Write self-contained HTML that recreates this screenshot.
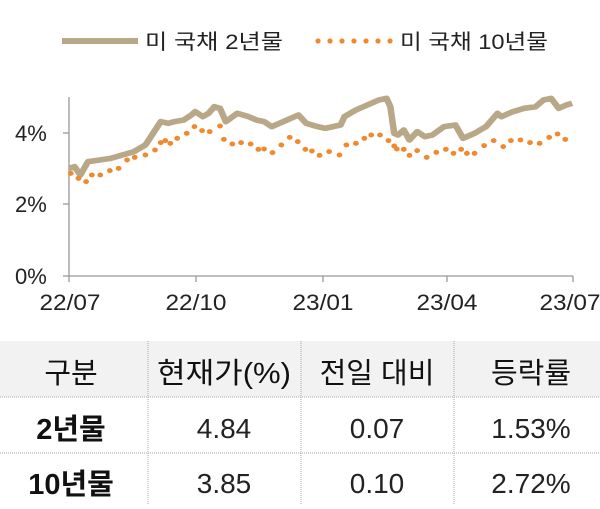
<!DOCTYPE html>
<html><head><meta charset="utf-8"><style>
body{margin:0;width:600px;height:504px;background:#fff;overflow:hidden;font-family:"Liberation Sans","Noto Sans CJK KR",sans-serif;}
svg text{font-family:"Liberation Sans","Noto Sans CJK KR",sans-serif;}
</style></head><body>
<svg width="600" height="504" viewBox="0 0 600 504" xmlns="http://www.w3.org/2000/svg">
<line x1="62" y1="41" x2="138" y2="41" stroke="#b8a887" stroke-width="6"/>
<text x="145" y="49" font-size="21" fill="#222" textLength="138" lengthAdjust="spacingAndGlyphs">미 국채 2년물</text>
<g fill="#f08a30">
<circle cx="318" cy="41" r="2.6"/><circle cx="330" cy="41" r="2.6"/><circle cx="342" cy="41" r="2.6"/><circle cx="354" cy="41" r="2.6"/><circle cx="366" cy="41" r="2.6"/><circle cx="378" cy="41" r="2.6"/><circle cx="390" cy="41" r="2.6"/>
</g>
<text x="400" y="49" font-size="21" fill="#222" textLength="148" lengthAdjust="spacingAndGlyphs">미 국채 10년물</text>
<g stroke="#999" stroke-width="1.3">
<line x1="69" y1="97" x2="69" y2="276"/>
<line x1="69" y1="276" x2="573" y2="276"/>
<line x1="63" y1="133" x2="69" y2="133"/><line x1="63" y1="204" x2="69" y2="204"/><line x1="63" y1="276" x2="69" y2="276"/>
<line x1="69" y1="276" x2="69" y2="282"/><line x1="196" y1="276" x2="196" y2="282"/><line x1="323" y1="276" x2="323" y2="282"/><line x1="447" y1="276" x2="447" y2="282"/><line x1="573" y1="276" x2="573" y2="282"/>
</g>
<g font-size="22" fill="#222">
<text x="15" y="141">4%</text><text x="15" y="212">2%</text><text x="15" y="284">0%</text>
<g text-anchor="middle">
<text x="70" y="310" textLength="61" lengthAdjust="spacingAndGlyphs">22/07</text><text x="196" y="310" textLength="61" lengthAdjust="spacingAndGlyphs">22/10</text><text x="323" y="310" textLength="61" lengthAdjust="spacingAndGlyphs">23/01</text><text x="447" y="310" textLength="61" lengthAdjust="spacingAndGlyphs">23/04</text><text x="570" y="310" textLength="61" lengthAdjust="spacingAndGlyphs">23/07</text>
</g></g>
<g transform="translate(0,80) scale(0.3827,0.3333)">
<polyline fill="none" stroke="#b8a887" stroke-width="17" stroke-linejoin="round" points="180,265 195,260 210,285 230,245 260,240 290,235 320,225 350,215 380,195 400,160 420,125 440,130 455,125 480,120 500,105 510,95 530,110 545,100 560,80 575,85 590,125 620,100 650,110 670,120 690,125 710,140 740,125 760,115 780,105 800,130 830,140 850,145 870,140 890,135 900,110 930,90 960,75 990,60 1010,55 1020,80 1030,160 1040,165 1055,150 1070,180 1090,155 1110,170 1130,165 1160,140 1190,135 1210,175 1240,160 1270,140 1300,100 1310,110 1340,95 1370,85 1400,80 1420,60 1440,55 1460,85 1480,75 1495,70"/>
<g fill="#f08a30">
<circle cx="185" cy="280" r="7.5"/><circle cx="205" cy="295" r="7.5"/><circle cx="225" cy="305" r="7.5"/><circle cx="240" cy="285" r="7.5"/><circle cx="262" cy="285" r="7.5"/><circle cx="287" cy="272" r="7.5"/><circle cx="310" cy="265" r="7.5"/><circle cx="332" cy="240" r="7.5"/><circle cx="352" cy="232" r="7.5"/><circle cx="380" cy="225" r="7.5"/><circle cx="405" cy="210" r="7.5"/><circle cx="420" cy="188" r="7.5"/><circle cx="432" cy="182" r="7.5"/><circle cx="445" cy="190" r="7.5"/><circle cx="463" cy="175" r="7.5"/><circle cx="488" cy="160" r="7.5"/><circle cx="508" cy="140" r="7.5"/><circle cx="528" cy="152" r="7.5"/><circle cx="548" cy="155" r="7.5"/><circle cx="575" cy="138" r="7.5"/><circle cx="585" cy="178" r="7.5"/><circle cx="607" cy="192" r="7.5"/><circle cx="630" cy="188" r="7.5"/><circle cx="655" cy="192" r="7.5"/><circle cx="675" cy="208" r="7.5"/><circle cx="690" cy="207" r="7.5"/><circle cx="712" cy="218" r="7.5"/><circle cx="735" cy="195" r="7.5"/><circle cx="757" cy="172" r="7.5"/><circle cx="778" cy="185" r="7.5"/><circle cx="798" cy="208" r="7.5"/><circle cx="815" cy="213" r="7.5"/><circle cx="835" cy="226" r="7.5"/><circle cx="860" cy="215" r="7.5"/><circle cx="887" cy="225" r="7.5"/><circle cx="905" cy="195" r="7.5"/><circle cx="930" cy="190" r="7.5"/><circle cx="952" cy="175" r="7.5"/><circle cx="970" cy="165" r="7.5"/><circle cx="993" cy="165" r="7.5"/><circle cx="1015" cy="182" r="7.5"/><circle cx="1030" cy="198" r="7.5"/><circle cx="1037" cy="207" r="7.5"/><circle cx="1055" cy="208" r="7.5"/><circle cx="1070" cy="226" r="7.5"/><circle cx="1090" cy="212" r="7.5"/><circle cx="1115" cy="232" r="7.5"/><circle cx="1140" cy="217" r="7.5"/><circle cx="1165" cy="208" r="7.5"/><circle cx="1185" cy="220" r="7.5"/><circle cx="1205" cy="208" r="7.5"/><circle cx="1220" cy="220" r="7.5"/><circle cx="1240" cy="220" r="7.5"/><circle cx="1265" cy="197" r="7.5"/><circle cx="1290" cy="182" r="7.5"/><circle cx="1315" cy="200" r="7.5"/><circle cx="1335" cy="182" r="7.5"/><circle cx="1360" cy="180" r="7.5"/><circle cx="1385" cy="188" r="7.5"/><circle cx="1410" cy="190" r="7.5"/><circle cx="1435" cy="172" r="7.5"/><circle cx="1457" cy="162" r="7.5"/><circle cx="1477" cy="178" r="7.5"/>
</g></g>
<rect x="0" y="341" width="600" height="56" fill="#f2f2f2"/>
<g stroke="#aaa" stroke-width="1" stroke-dasharray="1,1">
<line x1="0" y1="397" x2="600" y2="397"/><line x1="0" y1="453" x2="600" y2="453"/>
<line x1="148" y1="341" x2="148" y2="504"/><line x1="301" y1="341" x2="301" y2="504"/><line x1="454" y1="341" x2="454" y2="504"/>
</g>
<g font-size="29" fill="#111" text-anchor="middle">
<text x="71" y="383">구분</text><text x="224" y="383" textLength="134" lengthAdjust="spacingAndGlyphs">현재가(%)</text><text x="377" y="383">전일 대비</text><text x="531" y="383">등락률</text>
<text x="71" y="439" font-weight="bold">2년물</text><text x="71" y="494" font-weight="bold">10년물</text>
</g>
<g font-size="28" fill="#222" text-anchor="middle">
<text x="224" y="438">4.84</text><text x="377" y="438">0.07</text><text x="531" y="438">1.53%</text>
<text x="224" y="493">3.85</text><text x="377" y="493">0.10</text><text x="531" y="493">2.72%</text>
</g>
</svg>
</body></html>
